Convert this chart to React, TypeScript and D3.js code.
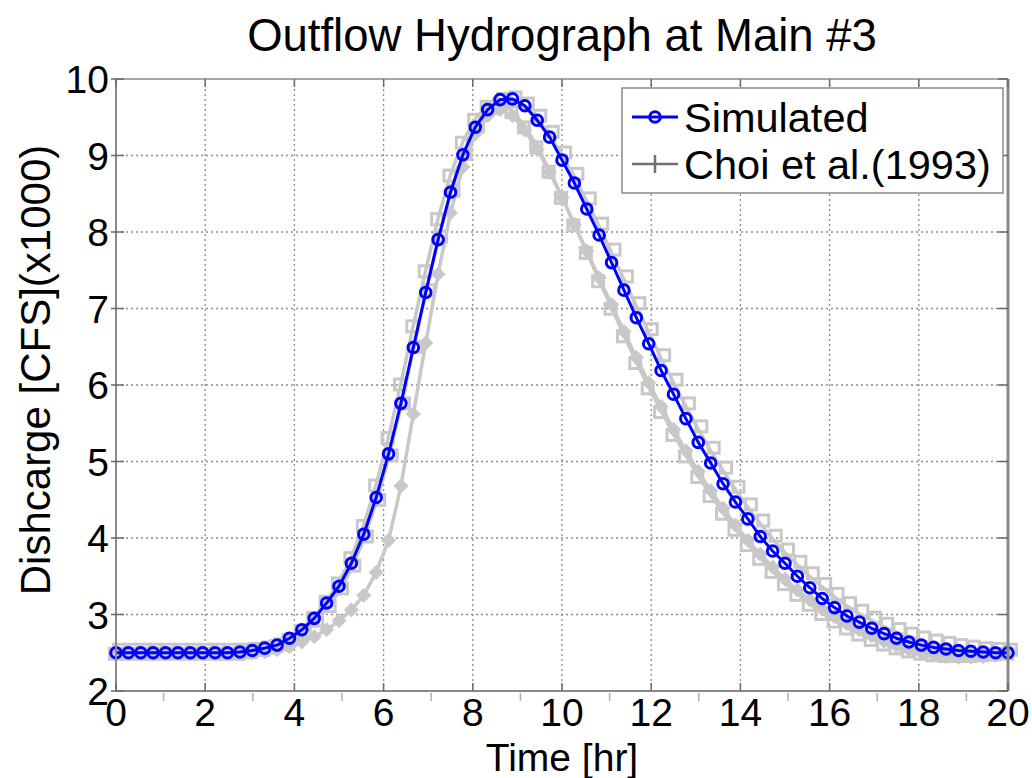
import React from "react";
import * as d3 from "d3";

// time step is 1000 s -> hours
const DT_HOURS = 1000 / 3600;

const simulated: number[] = [
  2.5, 2.5, 2.5, 2.5, 2.5, 2.5, 2.5, 2.5, 2.5, 2.5,
  2.51, 2.53, 2.56, 2.6, 2.69, 2.8, 2.95, 3.15, 3.37, 3.67,
  4.05, 4.53, 5.1, 5.76, 6.49, 7.21, 7.9, 8.52, 9.01, 9.37,
  9.6, 9.73, 9.74, 9.65, 9.46, 9.24, 8.94, 8.64, 8.3, 7.96,
  7.6, 7.24, 6.88, 6.54, 6.19, 5.88, 5.56, 5.25, 4.98, 4.71,
  4.47, 4.25, 4.02, 3.83, 3.67, 3.5, 3.35, 3.21, 3.09, 2.98,
  2.9, 2.82, 2.75, 2.69, 2.64, 2.6, 2.57, 2.55, 2.53, 2.52,
  2.51, 2.5, 2.5,
];

const choiSquares: number[] = [
  2.5, 2.5, 2.5, 2.5, 2.5, 2.5, 2.5, 2.5, 2.5, 2.5,
  2.5, 2.52, 2.55, 2.6, 2.68, 2.8, 2.97, 3.18, 3.42, 3.75,
  4.17, 4.7, 5.32, 6.02, 6.78, 7.5, 8.18, 8.75, 9.18, 9.48,
  9.65, 9.68, 9.58, 9.38, 9.12, 8.8, 8.46, 8.1, 7.74, 7.37,
  7.01, 6.65, 6.3, 5.97, 5.66, 5.36, 5.08, 4.81, 4.56, 4.33,
  4.12, 3.92, 3.74, 3.57, 3.41, 3.27, 3.14, 3.02, 2.92, 2.83,
  2.75, 2.68, 2.62, 2.57, 2.53, 2.5, 2.48, 2.47, 2.47, 2.47,
  2.48, 2.49, 2.5,
];

const choiDiamonds: number[] = [
  2.49, 2.49, 2.49, 2.49, 2.49, 2.49, 2.49, 2.49, 2.49, 2.49,
  2.49, 2.5, 2.51, 2.54, 2.58, 2.64, 2.71, 2.8, 2.92, 3.06,
  3.25, 3.55, 3.97, 4.68, 5.62, 6.55, 7.45, 8.25, 8.85, 9.28,
  9.52, 9.6, 9.52, 9.33, 9.08, 8.78, 8.45, 8.1, 7.75, 7.4,
  7.05, 6.7, 6.36, 6.03, 5.72, 5.42, 5.14, 4.87, 4.62, 4.39,
  4.17, 3.97, 3.79, 3.62, 3.46, 3.32, 3.19, 3.07, 2.97, 2.88,
  2.8, 2.72, 2.65, 2.59, 2.54, 2.5, 2.47, 2.45, 2.44, 2.44,
  2.45, 2.47, 2.49,
];

const choiUpper: number[] = [
  2.5, 2.5, 2.5, 2.5, 2.5, 2.5, 2.5, 2.5, 2.5, 2.5,
  2.5, 2.51, 2.53, 2.57, 2.64, 2.74, 2.88, 3.07, 3.3, 3.6,
  3.98, 4.46, 5.04, 5.72, 6.46, 7.2, 7.9, 8.5, 8.98, 9.34,
  9.58, 9.7, 9.72, 9.64, 9.48, 9.27, 9.0, 8.72, 8.4, 8.07,
  7.73, 7.38, 7.03, 6.69, 6.35, 6.03, 5.72, 5.42, 5.14, 4.88,
  4.63, 4.4, 4.19, 3.99, 3.81, 3.65, 3.5, 3.36, 3.23, 3.11,
  3.01, 2.92, 2.84, 2.77, 2.71, 2.66, 2.62, 2.59, 2.56, 2.54,
  2.52, 2.51, 2.5,
];

const xTicks = [0, 2, 4, 6, 8, 10, 12, 14, 16, 18, 20];
const xMinorTicks = [1, 3, 5, 7, 9, 11, 13, 15, 17, 19];
const yTicks = [2, 3, 4, 5, 6, 7, 8, 9, 10];

const TITLE = "Outflow Hydrograph at Main #3";
const X_LABEL = "Time [hr]";
const Y_LABEL = "Dishcarge [CFS](x1000)";
const LEGEND_LABELS = ["Simulated", "Choi et al.(1993)"];

const W = 1032;
const H = 778;
const FONT = "'Liberation Sans', Arial, Helvetica, sans-serif";
const BLUE = "#0000ff";
const GRAY = "#c8c8c8";
const AXIS = "#8a8a8a";

export default function App() {
  const x = d3.scaleLinear().domain([0, 20]).range([116, 1008]);
  const y = d3.scaleLinear().domain([2, 10]).range([691, 79]);
  const [x0, x1] = x.range();
  const [y0, y1] = y.range();

  const toPts = (arr: number[]) => arr.map((v, i) => [i * DT_HOURS, v] as [number, number]);
  const line = d3
    .line<[number, number]>()
    .x((d) => x(d[0]))
    .y((d) => y(d[1]));

  const simPts = toPts(simulated);
  const sqPts = toPts(choiSquares);
  const dmPts = toPts(choiDiamonds);
  const upPts = toPts(choiUpper);

  const sq = 11;
  const dm = 7;

  return (
    <svg
      width={W}
      height={H}
      viewBox={`0 0 ${W} ${H}`}
      style={{ position: "absolute", left: 0, top: 0, background: "#fff" }}
      fontFamily={FONT}
    >
      <rect x={0} y={0} width={W} height={H} fill="#fff" />
      <rect x={x0} y={y1} width={x1 - x0} height={y0 - y1} fill="#fff" />

      {/* grid */}
      <g stroke="#8c8c8c" strokeWidth={1.3} strokeDasharray="2,3">
        {xTicks.slice(1, -1).map((t) => (
          <line key={"gx" + t} x1={x(t)} x2={x(t)} y1={y1} y2={y0} />
        ))}
        {yTicks.slice(1, -1).map((t) => (
          <line key={"gy" + t} x1={x0} x2={x1} y1={y(t)} y2={y(t)} />
        ))}
      </g>

      {/* Choi et al. (gray) series */}
      <g fill="none" stroke={GRAY} strokeWidth={3.5} strokeLinejoin="round">
        <path d={line(upPts) || ""} />
        <path d={line(sqPts) || ""} />
        <path d={line(dmPts) || ""} />
      </g>
      <g fill="none" stroke={GRAY} strokeWidth={3}>
        {upPts.map((d, i) => (
          <rect key={"u" + i} x={x(d[0]) - sq / 2 + 3} y={y(d[1]) - sq / 2 - 3} width={sq} height={sq} />
        ))}
        {sqPts.map((d, i) => (
          <rect key={"s" + i} x={x(d[0]) - sq / 2 - 1} y={y(d[1]) - sq / 2 + 1} width={sq} height={sq} />
        ))}
      </g>
      <g fill={GRAY} stroke={GRAY} strokeWidth={1}>
        {dmPts.map((d, i) => {
          const cx = x(d[0]);
          const cy = y(d[1]);
          return (
            <path
              key={"d" + i}
              d={`M${cx},${cy - dm}L${cx + dm},${cy}L${cx},${cy + dm}L${cx - dm},${cy}Z`}
            />
          );
        })}
      </g>

      {/* Simulated series */}
      <path d={line(simPts) || ""} fill="none" stroke={BLUE} strokeWidth={3} strokeLinejoin="round" />
      <g fill="none" stroke={BLUE} strokeWidth={3}>
        {simPts.map((d, i) => (
          <circle key={"c" + i} cx={x(d[0])} cy={y(d[1])} r={5.3} />
        ))}
      </g>

      {/* axes box */}
      <g stroke={AXIS} strokeWidth={2} fill="none">
        <line x1={x0} x2={x1} y1={y0} y2={y0} />
        <line x1={x0} x2={x0} y1={y0} y2={y1} />
        <line x1={x0} x2={x1} y1={y1} y2={y1} strokeWidth={1.5} />
        <line x1={x1} x2={x1} y1={y0} y2={y1} strokeWidth={3} />
      </g>
      <g stroke="#6a6a6a" strokeWidth={1.5}>
        {xTicks.map((t) => (
          <g key={"xt" + t}>
            <line x1={x(t)} x2={x(t)} y1={y0} y2={y0 - 8} />
            <line x1={x(t)} x2={x(t)} y1={y1} y2={y1 + 8} />
          </g>
        ))}
        {xMinorTicks.map((t) => (
          <line key={"xm" + t} x1={x(t) + 3} x2={x(t) + 3} y1={y0 + 2} y2={y0 + 10} stroke="#b0b0b0" />
        ))}
        {yTicks.map((t) => (
          <g key={"yt" + t}>
            <line x1={x0 - 5} x2={x0 + 8} y1={y(t)} y2={y(t)} />
            <line x1={x1} x2={x1 - 10} y1={y(t)} y2={y(t)} />
          </g>
        ))}
      </g>

      {/* tick labels */}
      <g fontSize={39} fill="#000" textAnchor="middle">
        {xTicks.map((t) => (
          <text key={"xl" + t} x={x(t)} y={y0 + 35}>
            {t}
          </text>
        ))}
      </g>
      <g fontSize={39} fill="#000" textAnchor="end">
        {yTicks.map((t) => (
          <text key={"yl" + t} x={x0 - 7} y={y(t) + 14}>
            {t}
          </text>
        ))}
      </g>

      {/* title and axis labels */}
      <text x={(x0 + x1) / 2} y={51} fontSize={45.5} textAnchor="middle" fill="#000">
        {TITLE}
      </text>
      <text x={(x0 + x1) / 2} y={771} fontSize={39} textAnchor="middle" fill="#000">
        {X_LABEL}
      </text>
      <text
        transform={`translate(50, ${(y0 + y1) / 2 - 15}) rotate(-90)`}
        fontSize={42}
        textAnchor="middle"
        fill="#000"
      >
        {Y_LABEL}
      </text>

      {/* legend */}
      <g>
        <rect x={622} y={88} width={381} height={105} fill="#fff" stroke="#8a8a8a" strokeWidth={1.5} />
        <line x1={632} x2={678} y1={117} y2={117} stroke={BLUE} strokeWidth={3} />
        <circle cx={655} cy={117} r={5.3} fill="none" stroke={BLUE} strokeWidth={3} />
        <text x={684} y={132} fontSize={41.5} fill="#000">
          {LEGEND_LABELS[0]}
        </text>
        <line x1={632} x2={678} y1={164} y2={164} stroke="#707070" strokeWidth={2.5} />
        <line x1={655} x2={655} y1={155} y2={173} stroke="#707070" strokeWidth={2.5} />
        <text x={684} y={179} fontSize={41.5} fill="#000">
          {LEGEND_LABELS[1]}
        </text>
      </g>
    </svg>
  );
}
